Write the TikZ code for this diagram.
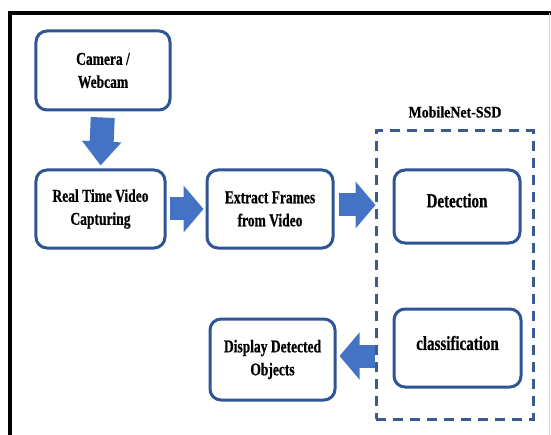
\documentclass[tikz,border=0pt]{standalone}
\usepackage{fontspec}
\setmainfont{Liberation Serif}[FakeStretch=0.75, BoldFeatures={FakeBold=0.6}]
\newfontfamily\titlefont{Liberation Serif}[FakeStretch=0.87, BoldFeatures={FakeBold=0.6}]
\usetikzlibrary{arrows.meta,calc}
\definecolor{boxblue}{HTML}{2F5597}
\definecolor{dashblue}{HTML}{3B5B8F}
\definecolor{arrowblue}{HTML}{4472C4}
\tikzset{
  stage/.style={draw=boxblue, line width=3bp, rounded corners=11bp, fill=white,
    align=center, font=\fontsize{18bp}{23bp}\selectfont\bfseries, inner sep=0pt},
  bigstage/.style={stage, font=\fontsize{20bp}{24bp}\selectfont\bfseries},
  blockarrow/.style={draw=arrowblue, line width=23bp,
    -{Triangle[length=20bp,width=46bp]}},
}
\begin{document}
\begin{tikzpicture}[x=1bp, y=-1bp]
  \useasboundingbox[fill=white] (0,0) rectangle (551,435);
  % page frame
  \draw[black, line width=3.5bp] (10,435) -- (10,13) -- (551,13);
  \draw[black!20, line width=0.8bp] (549.5,13) -- (549.5,435);

  % processing stages
  \node[stage, minimum width=134bp, minimum height=79bp] (cam) at (103,70.5) {Camera /\\Webcam};
  \node[stage, minimum width=129bp, minimum height=78bp] (rt) at (100.5,209) {Real Time Video\\Capturing};
  \node[stage, minimum width=126bp, minimum height=78bp] (ext) at (270,209) {Extract Frames\\from Video};
  \node[draw=dashblue, line width=3bp, dash pattern=on 10bp off 7bp,
        minimum width=157bp, minimum height=288bp] (mob) at (454.5,275) {};
  \node[font=\fontsize{16bp}{20bp}\titlefont\bfseries] (mobl) at (455,112) {MobileNet-SSD};
  \node[bigstage, minimum width=126bp, minimum height=73bp] (det) at (457,206.5)
    {\raisebox{6bp}[\height][\depth]{Detection}};
  \node[bigstage, minimum width=127bp, minimum height=78bp] (cls) at (457.5,348)
    {\raisebox{5bp}[\height][\depth]{classification}};
  \node[stage, minimum width=125bp, minimum height=81bp] (disp) at (272.5,359.5) {Display Detected\\Objects};

  % flow arrows
  \draw[blockarrow, line width=24bp, -{Triangle[length=24bp,width=38bp]},
        shorten <=6bp, shorten >=3bp] (cam.south) -- (rt.north);
  \draw[blockarrow, shorten <=3bp, shorten >=2bp] (rt.east) -- (ext.west);
  \draw[blockarrow, shorten <=4bp] ($(ext.east)+(0,-4)$) -- ($(ext.east -| mob.west)+(1,-4)$);
  \draw[blockarrow, shorten >=3bp] ($(disp.east -| mob.west)+(0,-3.5)$) -- ($(disp.east)+(0,-3.5)$);
\end{tikzpicture}
\end{document}
